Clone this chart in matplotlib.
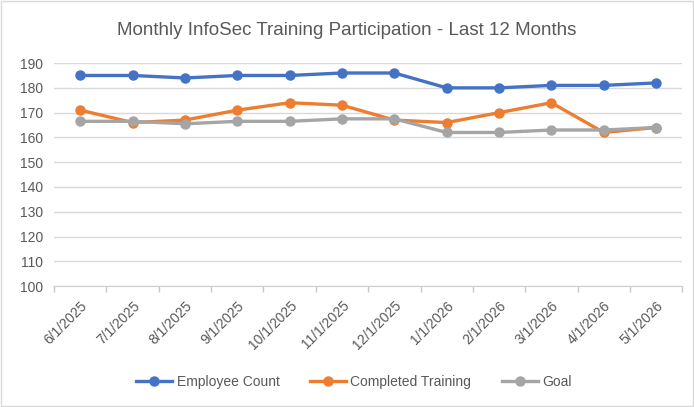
import matplotlib
matplotlib.use("Agg")
import matplotlib.pyplot as plt
from matplotlib.patches import Rectangle

months = ["6/1/2025", "7/1/2025", "8/1/2025", "9/1/2025", "10/1/2025", "11/1/2025",
          "12/1/2025", "1/1/2026", "2/1/2026", "3/1/2026", "4/1/2026", "5/1/2026"]
employee_count = [185, 185, 184, 185, 185, 186, 186, 180, 180, 181, 181, 182]
completed_training = [171, 166, 167, 171, 174, 173, 167, 166, 170, 174, 162, 164]
goal = [166.5, 166.5, 165.5, 166.5, 166.5, 167.5, 167.5, 162, 162, 163, 163, 164]

plt.rcParams["font.family"] = ["Liberation Sans", "DejaVu Sans"]
text_color = "#595959"

fig = plt.figure(figsize=(6.94, 4.07), dpi=100)
ax = fig.add_axes([0.078, 0.297, 0.905, 0.548])

x = list(range(len(months)))
ax.plot(x, employee_count, color="#4472C4", lw=2.4, marker="o", ms=6.5, label="Employee Count")
ax.plot(x, completed_training, color="#ED7D31", lw=2.4, marker="o", ms=6.5, label="Completed Training")
ax.plot(x, goal, color="#A5A5A5", lw=2.4, marker="o", ms=6.5, label="Goal")

ax.set_xlim(-0.5, len(months) - 0.5)
ax.set_ylim(100, 190)
ax.set_yticks(range(100, 191, 10))
ax.yaxis.grid(True, color="#D9D9D9", lw=1)
ax.set_axisbelow(True)
ax.set_xticks(x)
ax.set_xticklabels(months, rotation=45, ha="right", rotation_mode="anchor")
ax.tick_params(axis="y", length=0, labelsize=10, colors=text_color, pad=8)
ax.tick_params(axis="x", length=0, labelsize=10, colors=text_color, pad=9)
# tick marks between categories, Excel style
ax.set_xticks([i - 0.5 for i in range(len(months) + 1)], minor=True)
ax.tick_params(axis="x", which="minor", length=4, width=1, color="#C8C8C8")
for s in ["top", "right", "left"]:
    ax.spines[s].set_visible(False)
ax.spines["bottom"].set_color("#D0D0D0")

fig.text(0.5, 0.925, "Monthly InfoSec Training Participation - Last 12 Months",
         ha="center", va="center", fontsize=13.5, color=text_color)

fig.legend(loc="center", bbox_to_anchor=(0.51, 0.062), ncol=3, frameon=False,
           fontsize=10, labelcolor=text_color, handlelength=2.6, columnspacing=2.2,
           handletextpad=0.3)

fig.patches.append(Rectangle((0.002, 0.003), 0.996, 0.994, transform=fig.transFigure,
                             fill=False, edgecolor="#D9D9D9", lw=1))

fig.savefig("out.png", dpi=100)
